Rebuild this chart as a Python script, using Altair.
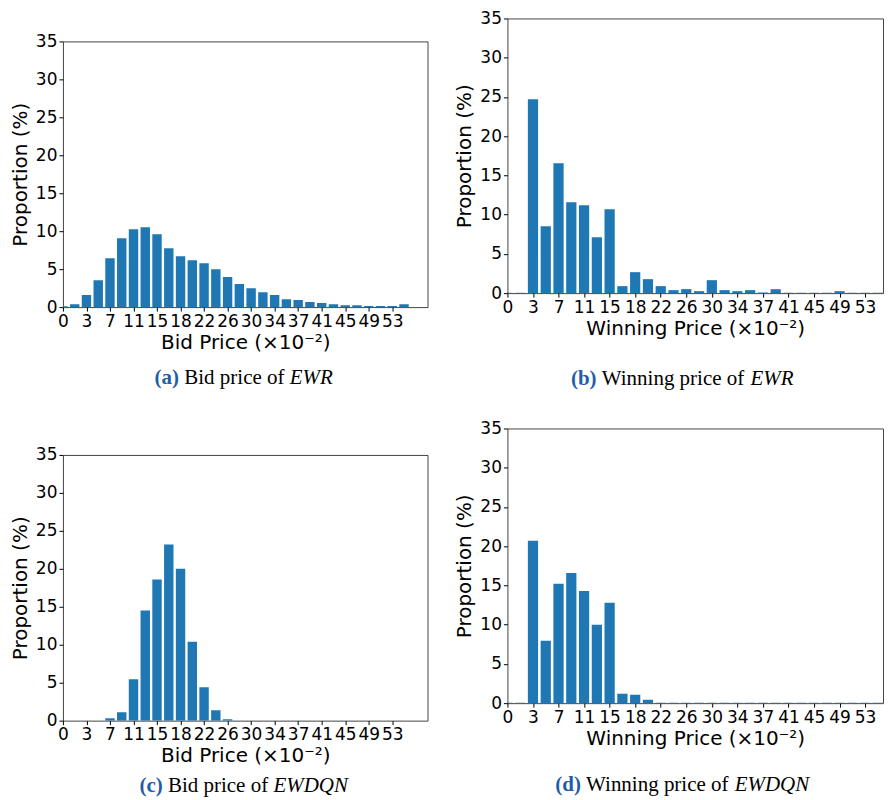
import altair as alt
import pandas as pd

# ---------------- data ----------------
bins = list(range(30))
tick_pos = [0, 2, 4, 6, 8, 10, 12, 14, 16, 18, 20, 22, 24, 26, 28]
tick_labels = ["0", "3", "7", "11", "15", "18", "22", "26", "30", "34", "37", "41", "45", "49", "53"]
y_ticks = [0, 5, 10, 15, 20, 25, 30, 35]

bid_ewr = [0.1, 0.39, 1.58, 3.55, 6.45, 9.08, 10.26, 10.53, 9.6, 7.76,
           6.71, 6.18, 5.79, 5.0, 3.95, 3.03, 2.5, 1.97, 1.58, 1.05,
           0.92, 0.66, 0.53, 0.39, 0.26, 0.26, 0.13, 0.13, 0.13, 0.39]
win_ewr = [0.04, 0.04, 24.7, 8.53, 16.55, 11.58, 11.2, 7.13, 10.69, 0.89,
           2.67, 1.78, 0.89, 0.38, 0.51, 0.25, 1.65, 0.38, 0.25, 0.38,
           0.08, 0.5, 0.05, 0.05, 0.05, 0.05, 0.25, 0.05, 0.05, 0.05]
bid_ewdqn = [0, 0, 0, 0, 0.3, 1.1, 5.44, 14.5, 18.6, 23.2,
             20.0, 10.4, 4.39, 1.36, 0.18, 0, 0, 0, 0, 0,
             0, 0, 0, 0, 0, 0, 0, 0, 0, 0]
win_ewdqn = [0.04, 0.04, 20.7, 7.94, 15.2, 16.6, 14.3, 9.98, 12.8, 1.19,
             1.06, 0.42, 0.04, 0.04, 0.04, 0.04, 0.04, 0.04, 0.04, 0.04,
             0.04, 0.04, 0.04, 0.04, 0.04, 0.04, 0.04, 0.04, 0.04, 0.04]

BAR = "#1f77b4"
CAP_BLUE = "#1f5ea6"
SPINE = "#444444"
CAP_FS = 21

# Times / Liberation Serif advance widths (per 1000 em) for caption layout
REG = {' ': 250, '(': 333, ')': 333, 'B': 667, 'W': 944, 'i': 278, 'd': 500, 'p': 500,
       'r': 333, 'c': 444, 'e': 444, 'o': 500, 'f': 333, 'n': 500, 'g': 500}
BOLD = {' ': 250, '(': 333, ')': 333, 'a': 500, 'b': 556, 'c': 444, 'd': 556}
ITAL = {'E': 611, 'W': 833, 'R': 611, 'D': 722, 'Q': 722, 'N': 667}


def tw(s, table):
    return sum(table[ch] for ch in s) * CAP_FS / 1000.0


label_expr = "[" + ",".join("'" + t + "'" for t in tick_labels) + "][datum.value / 2]"
one = pd.DataFrame({"k": [0]})


def caption_layers(letter, body, ital, cx, cy):
    t1 = "(" + letter + ")"
    sp = 250 * CAP_FS / 1000.0
    w1 = tw(t1, BOLD)
    w2 = tw(body, REG)
    w3 = tw(ital, ITAL)
    total = w1 + sp + w2 + sp + w3
    x0 = cx - total / 2
    common = dict(align="left", baseline="middle", font="Liberation Serif", fontSize=CAP_FS)
    a = alt.Chart(one).mark_text(text=t1, fontWeight="bold", color=CAP_BLUE, **common).encode(
        x=alt.value(x0), y=alt.value(cy))
    b = alt.Chart(one).mark_text(text=body, color="black", **common).encode(
        x=alt.value(x0 + w1 + sp), y=alt.value(cy))
    c = alt.Chart(one).mark_text(text=ital, fontStyle="italic", color="black", **common).encode(
        x=alt.value(x0 + w1 + sp + w2 + sp), y=alt.value(cy))
    return [a, b, c]


def panel(vals, xmax, width, height, xtitle, letter, body, ital, cx, cy):
    df = pd.DataFrame({"pos": bins, "val": vals})
    bars = alt.Chart(df).transform_calculate(
        x0="datum.pos - 0.4", x1="datum.pos + 0.4"
    ).mark_bar(color=BAR, clip=True).encode(
        x=alt.X("x0:Q", scale=alt.Scale(domain=[0, xmax], nice=False, zero=False),
                axis=alt.Axis(values=tick_pos, labelExpr=label_expr, title=xtitle,
                              labelOverlap=False, labelFlush=False)),
        x2="x1:Q",
        y=alt.Y("val:Q", scale=alt.Scale(domain=[0, 35], nice=False),
                axis=alt.Axis(values=y_ticks, title="Proportion (%)", labelFlush=False)),
        y2=alt.datum(0),
    )
    layers = [bars] + caption_layers(letter, body, ital, cx, cy)
    return alt.layer(*layers).properties(width=width, height=height)


XT_BID = "Bid Price (×10⁻²)"
XT_WIN = "Winning Price (×10⁻²)"

pa = panel(bid_ewr, 31, 365, 266, XT_BID, "a", "Bid price of", "EWR", 181, 337)
pc = panel(bid_ewdqn, 31, 365, 266, XT_BID, "c", "Bid price of", "EWDQN", 181, 331)
pb = panel(win_ewr, 29.4, 376, 275, XT_WIN, "b", "Winning price of", "EWR", 175, 361)
pd_ = panel(win_ewdqn, 29.4, 376, 275, XT_WIN, "d", "Winning price of", "EWDQN", 175, 357)

spacer = alt.Chart(one).mark_point(opacity=0, size=1).encode(
    x=alt.value(0), y=alt.value(0)
).properties(width=1, height=12.6, view=alt.ViewBackground(strokeOpacity=0))

col1 = alt.vconcat(spacer, alt.vconcat(pa, pc, spacing=56), spacing=0)
col2 = alt.vconcat(pb, pd_, spacing=28.5)

chart = alt.hconcat(col1, col2, spacing=25).properties(
    padding={"left": 1, "top": 0, "right": 0, "bottom": 0}
).configure_view(
    stroke=SPINE, strokeWidth=1
).configure_axis(
    grid=False, domain=False,
    labelFont="DejaVu Sans", labelFontSize=17, labelColor="black", labelPadding=2,
    titleFont="DejaVu Sans", titleFontSize=20, titleFontWeight="normal", titleColor="black",
    titlePadding=5, tickColor="black", tickSize=4, tickWidth=1,
).configure_axisX(titlePadding=3)

chart.save("out.html", embed_options={"renderer": "svg", "actions": False})
